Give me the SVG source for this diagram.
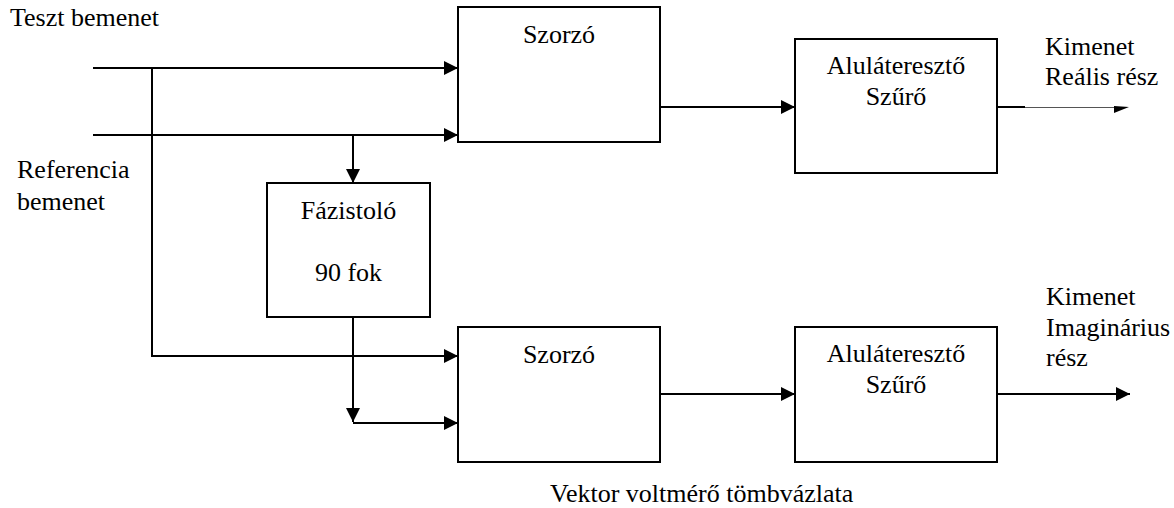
<svg xmlns="http://www.w3.org/2000/svg" width="1174" height="508" viewBox="0 0 1174 508">
  <style>
    text { font-family: "Liberation Serif", "Times New Roman", serif; font-size: 26px; fill: #000; }
    .c { text-anchor: middle; }
    .box { fill: #fff; stroke: #000; stroke-width: 2; }
    .wire { fill: none; stroke: #000; stroke-width: 2; }
    .thin { fill: none; stroke: #555; stroke-width: 1; }
  </style>
  <defs>
    <marker id="arrow" markerUnits="userSpaceOnUse" markerWidth="15" markerHeight="14" refX="14" refY="7" orient="auto">
      <path d="M0,0 L14,7 L0,14 Z" fill="#000"/>
    </marker>
  </defs>

  <rect width="1174" height="508" fill="#fff"/>

  <!-- input labels -->
  <text x="10" y="26">Teszt bemenet</text>
  <text x="17" y="178">Referencia</text>
  <text x="17" y="210">bemenet</text>

  <!-- output labels -->
  <text x="1045" y="55">Kimenet</text>
  <text x="1045" y="85">Reális rész</text>
  <text x="1046" y="305">Kimenet</text>
  <text x="1046" y="336">Imaginárius</text>
  <text x="1046" y="366">rész</text>

  <!-- connectors -->
  <g id="connectors">
    <line class="wire" x1="93" y1="68" x2="458" y2="68" marker-end="url(#arrow)"/>
    <line class="wire" x1="93" y1="135" x2="458" y2="135" marker-end="url(#arrow)"/>
    <polyline class="wire" points="152,68 152,356 458,356" marker-end="url(#arrow)"/>
    <line class="wire" x1="353" y1="135" x2="353" y2="183" marker-end="url(#arrow)"/>
    <line class="wire" x1="353" y1="317" x2="353" y2="422" marker-end="url(#arrow)"/>
    <line class="wire" x1="353" y1="423" x2="458" y2="423" marker-end="url(#arrow)"/>
    <line class="wire" x1="660" y1="107" x2="795" y2="107" marker-end="url(#arrow)"/>
    <line class="wire" x1="660" y1="394" x2="795" y2="394" marker-end="url(#arrow)"/>
    <line class="wire" x1="997" y1="107" x2="1025" y2="107"/>
    <line class="thin" x1="1025" y1="107.5" x2="1118" y2="107.5"/>
    <polygon points="1114,106 1129,107 1114,113" fill="#000"/>
    <line class="wire" x1="997" y1="394" x2="1130" y2="394" marker-end="url(#arrow)"/>
  </g>

  <!-- blocks -->
  <g id="szorzo1">
    <rect class="box" x="458" y="7" width="202" height="135"/>
    <text class="c" x="559" y="43">Szorzó</text>
  </g>
  <g id="szuro1">
    <rect class="box" x="795" y="39" width="202" height="134"/>
    <text class="c" x="896" y="74">Aluláteresztő</text>
    <text class="c" x="896" y="105">Szűrő</text>
  </g>
  <g id="fazistolo">
    <rect class="box" x="267" y="183" width="163" height="134"/>
    <text class="c" x="348.5" y="219">Fázistoló</text>
    <text class="c" x="348.5" y="281">90 fok</text>
  </g>
  <g id="szorzo2">
    <rect class="box" x="458" y="327" width="202" height="135"/>
    <text class="c" x="559" y="363">Szorzó</text>
  </g>
  <g id="szuro2">
    <rect class="box" x="795" y="327" width="202" height="135"/>
    <text class="c" x="896" y="362">Aluláteresztő</text>
    <text class="c" x="896" y="393">Szűrő</text>
  </g>

  <!-- caption -->
  <text x="550" y="502">Vektor voltmérő tömbvázlata</text>
</svg>
